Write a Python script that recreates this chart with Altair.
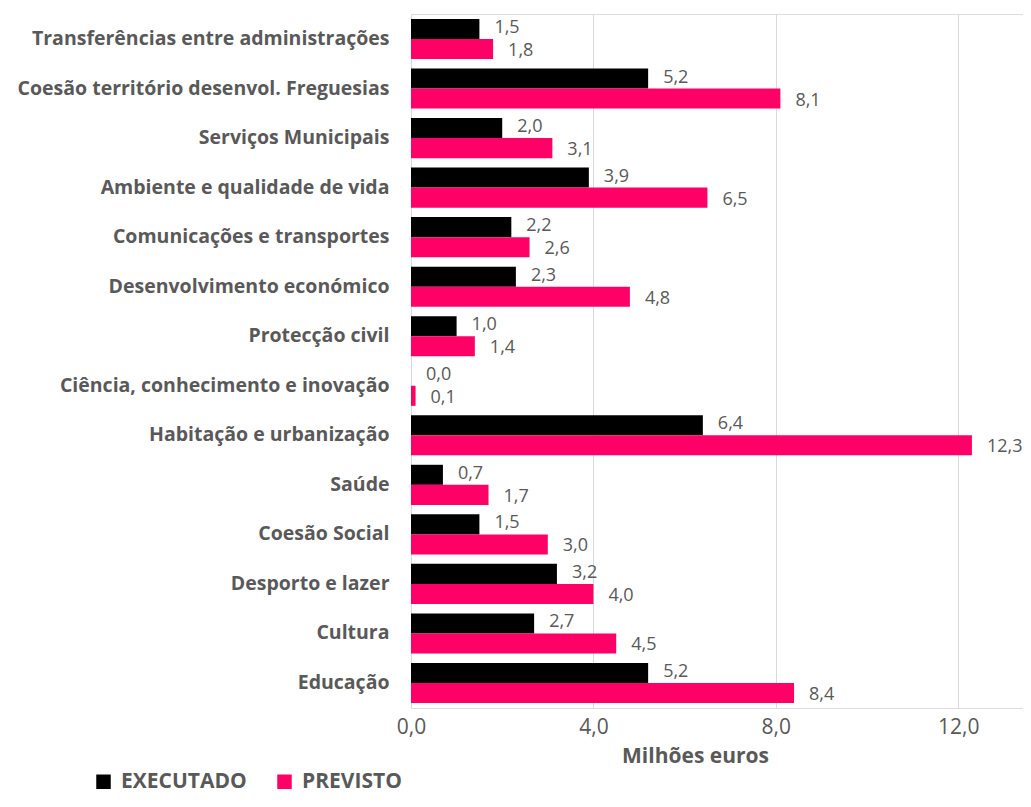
import altair as alt
import pandas as pd

categories = [
    "Transferências entre administrações",
    "Coesão território desenvol. Freguesias",
    "Serviços Municipais",
    "Ambiente e qualidade de vida",
    "Comunicações e transportes",
    "Desenvolvimento económico",
    "Protecção civil",
    "Ciência, conhecimento e inovação",
    "Habitação e urbanização",
    "Saúde",
    "Coesão Social",
    "Desporto e lazer",
    "Cultura",
    "Educação",
]
executado = [1.5, 5.2, 2.0, 3.9, 2.2, 2.3, 1.0, 0.0, 6.4, 0.7, 1.5, 3.2, 2.7, 5.2]
previsto = [1.8, 8.1, 3.1, 6.5, 2.6, 4.8, 1.4, 0.1, 12.3, 1.7, 3.0, 4.0, 4.5, 8.4]
series = ["EXECUTADO", "PREVISTO"]
colors = ["#000000", "#FF0066"]
x_ticks = [0, 4, 8, 12]

rows = []
for c, e, p in zip(categories, executado, previsto):
    for s, v in zip(series, [e, p]):
        rows.append({"cat": c, "serie": s, "valor": v,
                     "rotulo": f"{v:.1f}".replace(".", ",")})
df = pd.DataFrame(rows)

FONT = "Open Sans"
GRAY = "#595959"

y_enc = alt.Y("cat:N", sort=categories, title=None,
              scale=alt.Scale(paddingInner=0.19, paddingOuter=0.1),
              axis=alt.Axis(labelFontSize=19.5, labelFontWeight="bold", labelColor=GRAY,
                            labelFont=FONT, labelPadding=22, labelLimit=0,
                            domain=False, ticks=False, grid=False))
yoff = alt.YOffset("serie:N", sort=series, scale=alt.Scale(paddingInner=0, paddingOuter=0))
x_enc = alt.X("valor:Q", scale=alt.Scale(domain=[0, 13.42], nice=False, zero=True),
              axis=alt.Axis(values=x_ticks, labelExpr="replace(format(datum.value, '.1f'), '.', ',')",
                            labelFlush=False, labelOverlap=False,
                            labelFontSize=21, labelColor=GRAY, labelFont=FONT, labelPadding=8,
                            domain=False, ticks=False, grid=True, gridColor="#D9D9D9",
                            title="Milhões euros", titleFontSize=21, titleFontWeight="bold",
                            titleColor=GRAY, titleFont=FONT, titleX=284, titleY=48,
                            titleAlign="center", titleBaseline="middle"))

bars = alt.Chart(df).mark_bar().encode(
    y=y_enc, yOffset=yoff, x=x_enc,
    color=alt.Color("serie:N", sort=series, scale=alt.Scale(domain=series, range=colors),
                    legend=alt.Legend(title=None, orient="none", direction="horizontal",
                                      legendX=-318, legendY=757, symbolType="square",
                                      symbolSize=210, symbolStrokeWidth=0, labelFontSize=21,
                                      labelFontWeight="bold", labelColor=GRAY, labelFont=FONT,
                                      labelOffset=7, columnPadding=27, padding=0)),
)

text_base = dict(align="left", baseline="middle", dx=15, fontSize=18, color=GRAY, font=FONT)

labels_exec = alt.Chart(df).transform_filter(
    alt.datum.serie == series[0]
).mark_text(dy=-1, **text_base).encode(
    y=alt.Y("cat:N", sort=categories), yOffset=yoff, x="valor:Q", text="rotulo:N")

labels_prev = alt.Chart(df).transform_filter(
    alt.datum.serie == series[1]
).mark_text(dy=2, **text_base).encode(
    y=alt.Y("cat:N", sort=categories), yOffset=yoff, x="valor:Q", text="rotulo:N")

chart = alt.layer(bars, labels_exec, labels_prev).properties(
    width=612, height=694,
    autosize=alt.AutoSizeParams(type="none"),
    padding={"left": 403, "top": 6, "right": 0, "bottom": 86},
).configure_view(stroke=None).configure(background="white")

chart.save("out.html", embed_options={"renderer": "svg", "actions": False})
